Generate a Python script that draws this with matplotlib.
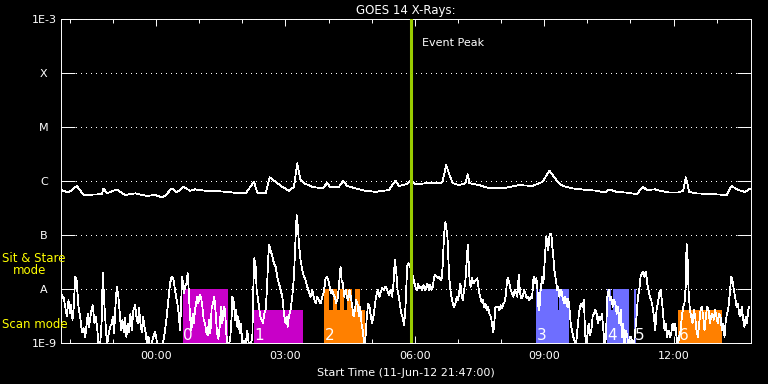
import numpy as np
import pandas as pd
import matplotlib
matplotlib.use('Agg')
import matplotlib.pyplot as plt
import matplotlib.dates as mdates
from matplotlib.ticker import NullLocator

start = pd.Timestamp('2012-06-11 21:47:00')
end = start + pd.Timedelta(hours=16)
event_peak = '05:55'

# GOES 1-8 A channel: minutes after start, flux in 1e-7 W/m2
long_min = [1.0, 11.1, 22.7, 32.0, 57.4, 59.8, 64.4, 78.3, 89.9, 103.8,
            119.5, 131.6, 140.8, 145.5, 154.7, 161.6, 171.0, 180.3, 187.2, 201.1,
            215.0, 228.9, 240.5, 257.6, 269.2, 273.8, 285.3, 290.9, 299.2, 308.6,
            317.9, 324.8, 329.4, 334.0, 338.7, 350.3, 364.2, 371.1, 375.7, 387.4,
            393.3, 398.9, 410.4, 424.3, 438.2, 456.9, 466.0, 470.8, 482.3, 486.5,
            494.8, 508.7, 529.6, 531.9, 536.5, 541.1, 545.8, 555.0, 563.3, 566.7,
            568.9, 582.8, 596.7, 619.9, 638.4, 657.0, 670.9, 680.1, 684.8, 691.8,
            698.7, 712.6, 724.1, 746.0, 757.5, 763.5, 773.8, 787.7, 801.6, 810.7,
            815.5, 827.0, 834.0, 847.8, 859.4, 866.3, 870.1, 874.7, 885.0, 908.0,
            926.7, 933.6, 942.8, 952.1, 956.7, 959.0]
long_flux = [6.8, 6.1, 8.1, 5.5, 5.7, 7.3, 5.9, 7.0, 5.5, 5.9,
             5.3, 5.5, 5.0, 5.3, 7.3, 6.1, 7.8, 6.6, 7.0, 6.6,
             6.6, 6.3, 6.1, 5.9, 9.7, 6.1, 5.9, 11.7, 9.7, 7.8,
             6.6, 7.8, 21.3, 10.4, 9.1, 7.8, 7.3, 9.1, 7.6, 7.8,
             10.1, 8.1, 7.3, 6.6, 6.3, 6.8, 10.1, 8.1, 8.8, 10.1,
             8.7, 9.1, 9.1, 10.1, 19.8, 12.9, 9.1, 8.4, 9.1, 13.3,
             9.1, 8.4, 7.3, 7.5, 8.4, 8.1, 9.7, 15.5, 12.9, 9.7,
             8.1, 7.3, 7.0, 6.6, 6.1, 7.0, 6.3, 6.1, 5.7, 7.8,
             6.8, 7.0, 6.6, 6.1, 6.1, 6.6, 11.7, 6.3, 5.9, 5.7,
             5.5, 8.1, 6.8, 6.3, 6.8, 7.2]

# GOES 0.5-4 A channel: minutes after start, flux in 1e-9 W/m2
short_min = [0.9, 2.8, 4.2, 6.5, 8.8, 11.1, 13.4, 14.8, 16.7, 18.5,
             20.4, 22.2, 25.0, 27.3, 29.7, 32.0, 34.3, 36.6, 38.0, 39.8,
             41.7, 43.6, 44.9, 47.3, 49.1, 51.4, 52.8, 55.1, 57.4, 58.8,
             61.2, 63.0, 64.9, 66.7, 69.0, 71.3, 72.7, 74.6, 76.4, 78.3,
             80.6, 82.5, 84.3, 86.2, 88.0, 89.9, 91.7, 93.6, 95.4, 97.3,
             99.1, 101.5, 103.8, 105.6, 107.5, 109.3, 111.2, 113.0, 114.9, 116.8,
             118.6, 120.5, 122.3, 124.6, 126.9, 129.3, 131.6, 133.9, 136.2, 140.8,
             143.2, 145.5, 147.8, 150.1, 152.4, 154.7, 157.1, 159.4, 160.8, 162.6,
             164.5, 166.3, 167.7, 169.1, 170.5, 171.9, 173.3, 175.1, 177.0, 178.4,
             180.2, 182.1, 183.9, 185.3, 187.2, 188.6, 190.4, 191.8, 193.7, 195.5,
             197.4, 199.2, 201.1, 202.9, 204.8, 206.6, 208.5, 210.3, 212.2, 214.0,
             215.9, 217.8, 219.6, 221.5, 223.3, 225.2, 227.0, 228.9, 230.7, 232.6,
             234.4, 236.3, 238.1,
             239.1, 241.4, 242.8, 244.6, 246.0, 247.4, 249.3, 251.1, 253.0, 255.3,
             257.6, 259.9, 262.2, 264.5, 266.9, 268.2, 269.6, 271.5, 272.9, 274.3,
             276.1, 278.0, 279.8, 281.7, 283.5, 285.4, 287.2, 289.1, 290.5, 292.3,
             294.7, 297.0, 299.3, 301.6, 303.9, 306.2, 308.6, 310.9, 313.2, 314.6,
             316.0, 317.8, 320.1, 322.5, 324.8, 327.1, 328.5, 330.3, 331.7, 334.0,
             336.4, 338.7, 341.0, 343.3, 345.6, 347.9, 350.3, 352.6, 354.9, 357.2,
             359.5, 361.8, 364.2, 366.5, 368.8, 370.6, 372.5, 374.3, 376.2, 378.1,
             379.9, 381.8, 383.6, 385.5, 387.3, 389.6, 391.0, 392.9, 394.7, 396.6,
             398.4, 400.3, 402.1, 404.0, 405.8, 407.7, 409.6, 411.4, 413.3, 415.1,
             417.0, 418.8, 420.7, 422.5, 424.4, 426.2, 428.1, 429.9, 431.8, 433.6,
             436.0, 438.3, 440.1, 442.0, 443.8, 445.7, 447.5, 449.9, 452.2, 454.5,
             456.8, 459.1, 461.4, 463.3, 465.1, 467.0, 468.9, 470.7, 472.6, 474.4,
             476.3, 478.1, 480.0,
             482.3, 483.7, 485.5, 487.9, 490.2, 492.5, 493.9, 495.7, 497.6, 499.4,
             501.3, 503.2, 505.0, 506.9, 508.7, 510.6, 512.4, 514.3, 516.1, 518.0,
             519.8, 521.7, 523.5, 525.4, 527.2, 529.1, 530.5, 531.9, 533.3, 534.6,
             535.6, 537.0, 538.4, 539.7, 541.1, 542.5, 543.9, 545.8, 547.6, 549.5,
             551.3, 553.2, 555.0, 556.4, 557.8, 559.7, 561.5, 563.4, 565.2, 566.6,
             568.0, 569.4, 570.8, 572.6, 574.5, 576.3, 578.2, 580.0, 581.9, 583.8,
             585.6, 587.5, 589.3, 591.2, 593.0, 594.9, 596.7, 598.6, 600.4, 601.8,
             603.2, 605.1, 606.9, 608.8, 610.6, 612.5, 614.3, 616.2, 618.0, 619.9,
             621.3, 622.7, 624.5, 626.4, 628.2, 630.1, 631.9, 633.8, 635.6, 637.5,
             639.4, 641.2, 643.1, 644.9, 646.8, 648.6, 650.5, 652.3, 654.2, 656.0,
             657.9, 659.3, 660.7, 662.1, 663.4, 664.8, 666.2, 667.6, 669.0, 670.4,
             671.8, 673.2, 674.6, 676.0, 677.3, 678.7, 680.1, 681.5, 682.9, 684.3,
             685.7, 687.1, 688.5, 689.8, 691.2, 692.6, 694.0, 695.4, 696.8, 698.2,
             699.6, 701.0, 702.4, 703.7, 705.1, 706.5, 707.9, 709.8, 711.6, 713.5,
             715.3, 717.2, 719.0, 720.9, 722.7,
             724.6, 726.4, 728.3, 729.7, 731.1, 732.9, 734.8, 736.6, 738.5, 740.4,
             742.2, 744.1, 745.9, 747.8, 749.6, 751.5, 753.3, 755.2, 757.0, 758.9,
             760.7, 762.6, 764.4, 766.3, 768.2, 770.0, 771.9, 773.7, 775.6, 777.4,
             779.3, 781.1, 783.0, 784.8, 786.7, 788.5, 790.4, 792.2, 794.1, 796.0,
             797.8, 799.7, 801.5, 803.4, 805.2, 807.1, 808.9, 810.8, 812.6, 814.5,
             816.3, 818.2, 820.0, 821.9, 823.7, 825.6, 827.5, 829.3, 831.2, 833.0,
             834.9, 836.7, 838.6, 840.4, 842.3, 844.1, 846.0, 847.8, 849.7, 851.5,
             853.4, 855.3, 857.1, 859.0, 860.8, 862.7, 864.5, 866.4, 868.2, 870.1,
             871.0, 872.4, 873.8, 875.6, 877.5, 879.3, 881.2, 883.0, 884.9, 886.8,
             888.6, 890.5, 892.3, 894.2, 896.0, 897.9, 899.7, 901.6, 903.4, 905.3,
             907.1, 909.0, 910.8, 912.7, 914.6, 916.4, 918.3, 920.1, 922.0, 923.8,
             925.7, 927.5, 929.4, 931.2, 933.1, 934.9, 936.8, 938.6, 940.5, 942.4,
             944.2, 946.1, 947.9, 949.8, 951.6, 953.5, 955.3, 956.7, 958.1]
short_flux = [8.9, 6.7, 7.2, 4.7, 3.1, 6.2, 3.5, 5.0, 2.7, 4.7,
              16.9, 15.8, 4.7, 3.1, 1.6, 1.9, 1.3, 2.3, 3.5, 2.0,
              3.1, 4.4, 5.0, 2.3, 3.1, 1.7, 0.9, 0.9, 2.7, 20.1,
              4.7, 2.0, 0.9, 1.4, 2.0, 2.3, 3.1, 1.5, 4.7, 11.0,
              7.2, 3.5, 1.7, 2.7, 1.6, 2.9, 1.3, 2.3, 1.6, 3.5,
              1.7, 4.1, 5.0, 3.1, 2.3, 4.4, 2.3, 1.6, 3.1, 2.0,
              1.5, 0.9, 1.3, 0.9, 1.0, 1.3, 1.6, 1.1, 0.9, 0.9,
              1.1, 1.7, 3.1, 6.2, 12.7, 16.9, 15.2, 9.6, 7.2, 5.4,
              3.5, 1.7, 4.7, 16.9, 12.7, 8.3, 11.0, 12.7, 19.5, 9.6,
              3.1, 1.7, 3.5, 2.3, 4.1, 5.4, 7.2, 5.4, 7.8, 7.2,
              4.7, 2.7, 2.3, 1.6, 1.4, 2.7, 1.5, 4.4, 5.4, 7.2,
              3.5, 1.5, 1.2, 2.0, 4.7, 2.3, 4.7, 4.1, 1.5, 0.9,
              0.9, 1.3, 3.1,
              7.2, 5.4, 2.7, 4.1, 2.0, 3.1, 1.5, 2.3, 0.9, 1.1,
              0.9, 1.7, 0.9, 0.9, 1.3, 9.6, 37.0, 25.9, 9.6, 7.2,
              4.7, 3.1, 2.7, 2.3, 3.5, 4.1, 9.6, 39.7, 65.0, 52.7,
              39.7, 29.9, 25.9, 16.9, 12.7, 9.6, 7.2, 3.5, 2.3, 3.1,
              2.0, 3.1, 4.1, 7.2, 16.9, 93.0, 233.0, 143.0, 70.0, 34.4,
              22.5, 16.9, 14.7, 11.0, 8.9, 7.2, 9.6, 6.7, 5.4, 7.2,
              6.2, 5.4, 7.2, 8.9, 15.8, 16.9, 14.7, 11.0, 8.3, 9.6,
              7.8, 7.2, 5.4, 6.7, 11.0, 25.9, 14.7, 12.7, 7.2, 9.6,
              7.2, 6.2, 9.6, 7.2, 4.7, 3.1, 4.1, 6.2, 5.4, 3.1,
              4.7, 2.3, 1.7, 0.9, 1.3, 3.1, 5.4, 4.7, 3.1, 2.3,
              3.5, 6.2, 8.3, 9.6, 7.2, 8.9, 10.3, 9.6, 11.0, 9.6,
              7.8, 9.6, 7.2, 12.7, 34.4, 22.5, 9.6, 7.2, 4.7, 3.5,
              2.9, 2.1, 4.7,
              25.9, 29.9, 27.8, 22.5, 16.9, 12.7, 11.0, 9.6, 12.7, 10.3,
              11.0, 9.6, 11.8, 9.6, 11.0, 12.7, 9.6, 11.8, 9.6, 11.0,
              16.9, 18.2, 16.9, 15.8, 16.9, 14.7, 15.8, 29.9, 81.0, 143.0,
              176.0, 124.0, 93.0, 34.4, 14.7, 9.6, 7.2, 5.4, 4.7, 5.4,
              7.2, 6.2, 9.6, 12.7, 8.3, 6.2, 9.6, 14.7, 34.4, 65.0,
              29.9, 12.7, 11.0, 15.8, 12.7, 13.7, 14.7, 15.8, 9.6, 7.2,
              5.8, 6.2, 4.7, 5.4, 4.1, 4.7, 3.5, 3.1, 2.3, 1.6,
              2.0, 4.7, 4.7, 4.7, 4.1, 5.0, 4.4, 5.4, 5.8, 8.3,
              14.7, 15.8, 12.7, 9.6, 8.3, 7.2, 9.6, 8.9, 7.2, 18.2,
              8.3, 6.7, 7.2, 9.6, 8.3, 6.7, 7.2, 6.2, 7.2, 6.7,
              14.7, 16.9, 12.7, 15.8, 11.0, 4.7, 4.1, 8.3, 12.7, 16.9,
              12.7, 25.9, 52.7, 93.0, 70.0, 52.7, 93.0, 107.0, 107.0, 60.8,
              39.7, 22.5, 16.9, 12.7, 9.6, 11.0, 7.2, 8.3, 9.6, 7.2,
              6.2, 5.4, 7.2, 5.4, 4.7, 6.7, 4.7, 2.3, 1.7, 1.3,
              1.1, 0.9, 1.7, 3.1, 4.7,
              5.4, 4.7, 6.2, 1.7, 0.9, 1.3, 2.3, 1.4, 1.7, 3.1,
              3.5, 4.1, 3.5, 2.3, 3.1, 2.7, 3.5, 1.7, 0.9, 1.3,
              7.2, 9.6, 6.2, 7.2, 4.7, 6.2, 5.4, 3.5, 4.7, 2.3,
              4.1, 1.3, 2.3, 0.9, 1.7, 1.3, 0.9, 1.3, 1.3, 0.9,
              0.9, 1.7, 3.1, 7.2, 9.6, 16.9, 19.5, 21.0, 16.9, 21.0,
              12.7, 9.6, 7.2, 6.2, 4.7, 3.1, 1.7, 4.1, 5.4, 8.3,
              9.6, 6.2, 3.1, 1.7, 2.3, 1.3, 1.7, 1.3, 1.5, 2.3,
              1.7, 2.3, 1.3, 0.9, 1.3, 1.7, 3.1, 4.7, 5.4, 12.7,
              70.0, 39.7, 9.6, 4.1, 3.1, 2.3, 4.1, 3.1, 1.7, 1.3,
              2.3, 4.1, 4.7, 3.1, 1.7, 3.1, 4.7, 4.1, 2.3, 3.1,
              3.5, 2.7, 4.1, 3.1, 2.3, 3.5, 3.1, 1.7, 2.3, 1.3,
              2.7, 3.5, 4.7, 8.3, 16.9, 14.7, 9.6, 7.2, 4.7, 5.4,
              3.5, 3.1, 4.7, 2.7, 2.0, 3.1, 2.3, 4.1, 4.7]

# observing blocks (clock start, clock end, colour)
magenta = '#C800C8'
orange = '#FF8000'
blue = '#6E6EFF'
sit_stare = [('00:37', '01:40', magenta),
             ('03:54', '04:01', orange), ('04:06', '04:11', orange),
             ('04:16', '04:21', orange), ('04:26', '04:32', orange),
             ('04:37', '04:44', orange),
             ('08:49', '08:51', blue), ('08:53', '09:19', blue),
             ('09:21', '09:35', blue),
             ('10:27', '10:33', blue), ('10:35', '10:58', blue),
             ('11:05', '11:08', blue)]
scan = [('02:16', '03:25', magenta),
        ('03:54', '04:50', orange),
        ('08:49', '09:35', blue),
        ('10:27', '10:58', blue),
        ('12:06', '13:08', orange)]
block_names = ['0', '1', '2', '3', '4', '5', '6']
block_starts = ['00:37', '02:16', '03:54', '08:49', '10:27', '11:05', '12:06']

class_ticks = [1e-9, 1e-8, 1e-7, 1e-6, 1e-5, 1e-4, 1e-3]
class_names = ['1E-9', 'A', 'B', 'C', 'M', 'X', '1E-3']
sit_top = 1e-8
scan_top = 4.1e-9


def clock(hhmm):
    t = pd.Timestamp('2012-06-12 ' + hhmm)
    if t.hour >= 21:
        t = t - pd.Timedelta(days=1)
    return t


long_t = start + pd.to_timedelta(long_min, unit='min')
short_t = start + pd.to_timedelta(short_min, unit='min')

fig = plt.figure(figsize=(7.68, 3.84), dpi=100, facecolor='black')
ax = fig.add_axes([60.5 / 768, 1 - 343 / 384, 690 / 768, 324 / 384])
ax.set_facecolor('black')
ax.set_yscale('log')
ax.set_ylim(1e-9, 1e-3)
ax.set_xlim(start, end)
ax.set_axisbelow(True)

for t0, t1, c in scan:
    ax.fill_between([clock(t0), clock(t1)], 1e-9, scan_top, color=c,
                    lw=0, antialiased=False, zorder=1)
for t0, t1, c in sit_stare:
    ax.fill_between([clock(t0), clock(t1)], 1e-9, sit_top, color=c,
                    lw=0, antialiased=False, zorder=1)

ax.plot(long_t, np.array(long_flux) * 1e-7, color='white', lw=0.55,
        antialiased=False, zorder=3)
ax.plot(short_t, np.array(short_flux) * 1e-9, color='white', lw=0.55,
        antialiased=False, zorder=3)

for name, t in zip(block_names, block_starts):
    ax.text(clock(t) + pd.Timedelta(minutes=1), 1.16e-9, name, color='white',
            fontsize=11, va='baseline', ha='left', zorder=4)

ax.axvline(clock(event_peak), color='#99CC00', lw=2.2, zorder=5)
ax.text(clock(event_peak) + pd.Timedelta(minutes=15), 3.67e-4, 'Event Peak',
        color='white', fontsize=8, va='center', ha='left')

ax.grid(axis='y', which='major', color='white', lw=0.6,
        linestyle=(0, (1, 6)), antialiased=False)

ax.set_yticks(class_ticks)
ax.set_yticklabels(class_names)
ax.yaxis.set_minor_locator(NullLocator())
ax.tick_params(axis='y', which='major', direction='in', length=10, width=0.7,
               left=True, right=True, colors='white', labelsize=8, pad=11.9)
for lab in ax.get_yticklabels():
    lab.set_horizontalalignment('center')

ax.xaxis.set_major_locator(mdates.HourLocator(byhour=[0, 3, 6, 9, 12]))
ax.xaxis.set_minor_locator(mdates.HourLocator())
ax.xaxis.set_major_formatter(mdates.DateFormatter('%H:%M'))
ax.tick_params(axis='x', which='major', direction='in', length=4.8, width=0.7,
               top=True, bottom=True, colors='white', labelsize=8, pad=6)
ax.tick_params(axis='x', which='minor', direction='in', length=2.8, width=0.7,
               top=True, bottom=True, colors='white')

for s in ax.spines.values():
    s.set_color('white')
    s.set_linewidth(0.7)

ax.set_title('GOES 14 X-Rays:', color='white', fontsize=8.5, pad=3.5)
ax.set_xlabel('Start Time (11-Jun-12 21:47:00)', color='white', fontsize=8,
              labelpad=4.5)

fig.text(1.7 / 768, 1 - 259 / 384, 'Sit & Stare', color='#FFFF00', fontsize=8.5,
         ha='left', va='center')
fig.text(12.7 / 768, 1 - 270.7 / 384, 'mode', color='#FFFF00', fontsize=8.5,
         ha='left', va='center')
fig.text(1.7 / 768, 1 - 324 / 384, 'Scan mode', color='#FFFF00', fontsize=8.5,
         ha='left', va='center')

fig.savefig('out.png', dpi=100, facecolor='black')
